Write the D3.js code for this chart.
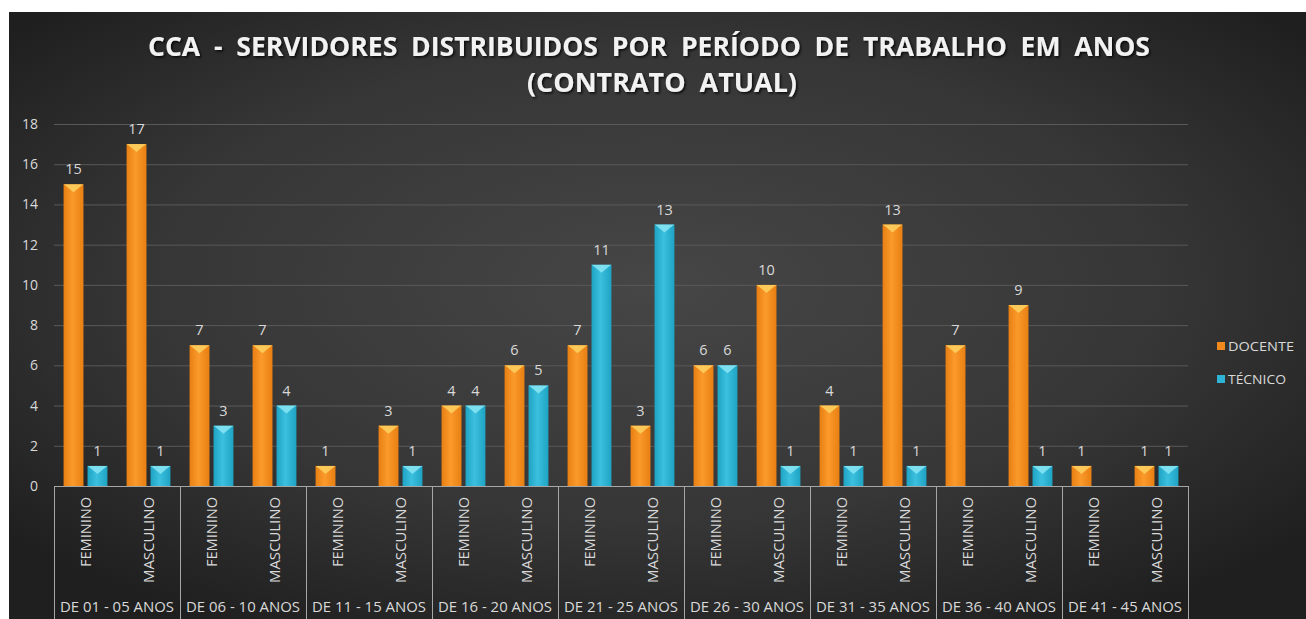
<!DOCTYPE html>
<html>
<head>
<meta charset="utf-8">
<script src="https://cdn.jsdelivr.net/npm/d3@7"></script>
<style>
  html, body {margin:0; padding:0; background:#fff;}
  svg {display:block;}
  text {font-family: "Open Sans", "Noto Sans", sans-serif; white-space: pre;}
</style>
</head>
<body>
<svg width="1306" height="619"></svg>
<script>
"use strict";

// data
const groups = ["DE 01 - 05 ANOS", "DE 06 - 10 ANOS", "DE 11 - 15 ANOS", "DE 16 - 20 ANOS",
  "DE 21 - 25 ANOS", "DE 26 - 30 ANOS", "DE 31 - 35 ANOS", "DE 36 - 40 ANOS", "DE 41 - 45 ANOS"];
const sexes = ["FEMININO", "MASCULINO"];
const series = ["DOCENTE", "TÉCNICO"];
// one value per (group, sex), in order
const docente = [15, 17, 7, 7, 1, 3, 4, 6, 7, 3, 6, 10, 4, 13, 7, 9, 1, 1];
const tecnico = [1, 1, 3, 4, null, 1, 4, 5, 11, 13, 6, 1, 1, 1, null, 1, null, 1];
const yTicks = [0, 2, 4, 6, 8, 10, 12, 14, 16, 18];

const W = 1306, H = 619;
const svg = d3.select("svg");

// layout
const left = 54, right = 1188, y0 = 486, yTop = 124;

var cats = [];
groups.forEach(function(g, gi) {
  sexes.forEach(function(s, si) {
    var i = gi * 2 + si;
    cats.push({key: g + "|" + s, group: g, sex: s, values: [docente[i], tecnico[i]]});
  });
});

const x = d3.scaleBand().domain(cats.map(d => d.key)).range([left, right]).padding(0);
const xg = d3.scaleBand().domain(groups).range([left, right]).padding(0);
const xs = d3.scaleBand().domain(series).range([0, x.bandwidth()])
  .paddingInner(0.17).paddingOuter(0.4);
const y = d3.scaleLinear().domain([0, 18]).range([y0, yTop]);

const defs = svg.append("defs");

// background gradient
var bg = defs.append("radialGradient").attr("id", "bg")
  .attr("cx", "50%").attr("cy", "45%").attr("r", "65%");
bg.append("stop").attr("offset", "0%").attr("stop-color", "#464646");
bg.append("stop").attr("offset", "60%").attr("stop-color", "#363636");
bg.append("stop").attr("offset", "100%").attr("stop-color", "#1f1f1f");

// bar gradients
function barGrad(id, c0, c1) {
  var gr = defs.append("linearGradient").attr("id", id)
    .attr("x1", "0%").attr("x2", "100%").attr("y1", "0%").attr("y2", "0%");
  gr.append("stop").attr("offset", "0%").attr("stop-color", c0);
  gr.append("stop").attr("offset", "45%").attr("stop-color", c1);
  gr.append("stop").attr("offset", "100%").attr("stop-color", c0);
}
barGrad("gOrange", "#e87f12", "#fb9a2c");
barGrad("gBlue", "#1fa3c4", "#3cc0de");
const fills = {"DOCENTE": "url(#gOrange)", "TÉCNICO": "url(#gBlue)"};
const bevel = {"DOCENTE": "#fdd262", "TÉCNICO": "#8ae6f5"};
const legendCol = {"DOCENTE": "#f08a1c", "TÉCNICO": "#2db4d6"};

var shadow = defs.append("filter").attr("id", "tshadow")
  .attr("x", "-5%").attr("y", "-20%").attr("width", "110%").attr("height", "150%");
shadow.append("feDropShadow").attr("dx", 1.5).attr("dy", 1.5).attr("stdDeviation", 1)
  .attr("flood-color", "#000").attr("flood-opacity", 0.8);

svg.append("rect").attr("x", 9).attr("y", 12).attr("width", W - 9).attr("height", H - 12)
  .attr("fill", "url(#bg)");

// title
var title = svg.append("g").attr("filter", "url(#tshadow)")
  .attr("fill", "#f2f2f2").attr("font-weight", "bold").attr("font-size", 27)
  .attr("text-anchor", "middle");
title.append("text").attr("x", 649).attr("y", 56)
  .attr("textLength", 1002).attr("lengthAdjust", "spacingAndGlyphs")
  .text("CCA  -  SERVIDORES  DISTRIBUIDOS  POR  PERÍODO  DE  TRABALHO  EM  ANOS");
title.append("text").attr("x", 662).attr("y", 92)
  .attr("textLength", 270).attr("lengthAdjust", "spacingAndGlyphs")
  .text("(CONTRATO  ATUAL)");

// gridlines
svg.append("g").selectAll("line").data(yTicks.filter(d => d > 0)).join("line")
  .attr("x1", left).attr("x2", right)
  .attr("y1", d => y(d) + 0.5).attr("y2", d => y(d) + 0.5)
  .attr("stroke", "#595959").attr("stroke-width", 1);

// y axis labels
svg.append("g").selectAll("text").data(yTicks).join("text")
  .attr("x", 38).attr("y", d => y(d) + 5)
  .attr("text-anchor", "end").attr("font-size", 14).attr("fill", "#d9d9d9")
  .text(d => d);

// bars
var cg = svg.append("g").selectAll("g").data(cats).join("g")
  .attr("transform", d => "translate(" + x(d.key) + ",0)");

var bars = cg.selectAll("g.bar")
  .data(d => series.map((s, i) => ({s: s, v: d.values[i]})).filter(b => b.v != null))
  .join("g").attr("class", "bar");

bars.append("rect")
  .attr("x", b => xs(b.s)).attr("width", xs.bandwidth())
  .attr("y", b => y(b.v)).attr("height", b => y0 - y(b.v))
  .attr("fill", b => fills[b.s]);

bars.append("path")
  .attr("d", function(b) {
    var x0 = xs(b.s), w = xs.bandwidth(), t = y(b.v);
    return "M" + x0 + "," + t + "L" + (x0 + w) + "," + t + "L" + (x0 + w - 4) + "," + (t + 3)
      + "L" + (x0 + w / 2) + "," + (t + 8) + "L" + (x0 + 4) + "," + (t + 3) + "Z";
  })
  .attr("fill", b => bevel[b.s]).attr("opacity", 0.85);

bars.append("text")
  .attr("x", b => xs(b.s) + xs.bandwidth() / 2).attr("y", b => y(b.v) - 10)
  .attr("text-anchor", "middle").attr("font-size", 14.5).attr("fill", "#d9d9d9")
  .text(b => b.v);

// x axis frame
var ax = svg.append("g").attr("stroke", "#a6a6a6").attr("stroke-width", 1);
ax.append("line").attr("x1", left).attr("x2", right).attr("y1", y0 + 0.5).attr("y2", y0 + 0.5);
ax.selectAll("line.sep").data(groups.concat(["end"])).join("line").attr("class", "sep")
  .attr("x1", d => (d === "end" ? right : xg(d)) + 0.5)
  .attr("x2", d => (d === "end" ? right : xg(d)) + 0.5)
  .attr("y1", y0).attr("y2", H);

// category labels (rotated)
svg.append("g").selectAll("text").data(cats).join("text")
  .attr("transform", d => "translate(" + (x(d.key) + x.bandwidth() / 2 + 5) + "," + 497 + ") rotate(-90)")
  .attr("text-anchor", "end").attr("font-size", 14).attr("fill", "#d9d9d9")
  .attr("textLength", d => d.sex === "FEMININO" ? 70 : 86).attr("lengthAdjust", "spacingAndGlyphs")
  .text(d => d.sex);

// group labels
svg.append("g").selectAll("text").data(groups).join("text")
  .attr("x", d => xg(d) + xg.bandwidth() / 2).attr("y", 612)
  .attr("text-anchor", "middle").attr("font-size", 14).attr("fill", "#d9d9d9")
  .attr("textLength", 114).attr("lengthAdjust", "spacingAndGlyphs")
  .text(d => d);

// legend
var lg = svg.append("g").selectAll("g").data(series).join("g")
  .attr("transform", (d, i) => "translate(1217," + (342 + i * 33) + ")");
lg.append("rect").attr("width", 8).attr("height", 8).attr("fill", d => legendCol[d]);
lg.append("text").attr("x", 11).attr("y", 9).attr("font-size", 12.5).attr("fill", "#d9d9d9")
  .attr("textLength", d => d === "DOCENTE" ? 66 : 58).attr("lengthAdjust", "spacingAndGlyphs")
  .text(d => d);
</script>
</body>
</html>
